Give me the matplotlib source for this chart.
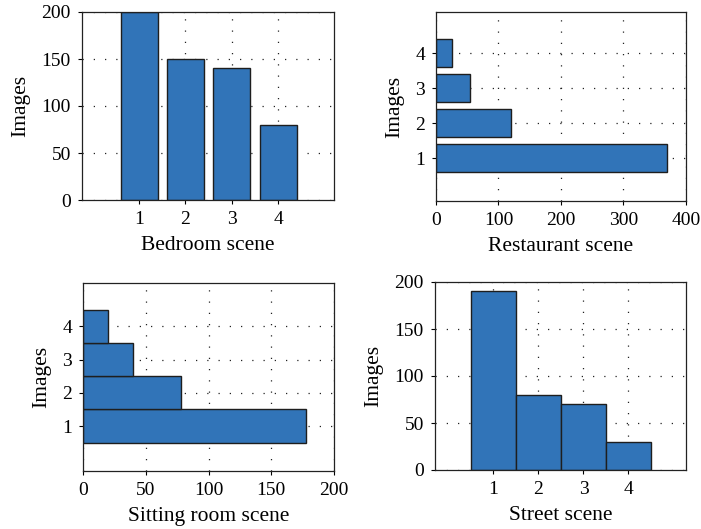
import matplotlib
matplotlib.use("Agg")
import matplotlib.pyplot as plt

plt.rcParams['font.family'] = ['Liberation Serif', 'DejaVu Serif']
plt.rcParams['font.size'] = 14

categories = [1, 2, 3, 4]
bedroom = [200, 150, 140, 80]
restaurant = [370, 120, 55, 25]
sitting = [178, 78, 40, 20]
street = [190, 80, 70, 30]

bar_color = '#3174b8'
edge_color = '#1e1e1e'

fig = plt.figure(figsize=(7.01, 5.29), dpi=100)
W, H = 701, 529

def add_ax(l, t, r, b):
    return fig.add_axes([l / W, 1 - b / H, (r - l) / W, (b - t) / H])

LBL = 15.5

def style(ax, xlabel):
    ax.set_axisbelow(True)
    ax.grid(True, linestyle=(0, (1, 8)), color='#222222', linewidth=0.9)
    ax.tick_params(direction='out', length=3, width=0.8, pad=5, labelsize=14)
    for s in ax.spines.values():
        s.set_linewidth(0.9)
        s.set_color('#222222')
    ax.set_xlabel(xlabel, fontsize=LBL, labelpad=6)
    ax.set_ylabel('Images', fontsize=LBL, labelpad=8)

# Bedroom
ax1 = add_ax(82, 12, 334, 200)
ax1.bar(categories, bedroom, width=0.8, color=bar_color, edgecolor=edge_color, linewidth=1)
ax1.set_xlim(-0.23, 5.2)
ax1.set_ylim(0, 200)
ax1.set_xticks(categories)
ax1.set_yticks([0, 50, 100, 150, 200])
style(ax1, 'Bedroom scene')

# Restaurant
ax2 = add_ax(436, 12, 686, 201)
ax2.barh(categories, restaurant, height=0.8, color=bar_color, edgecolor=edge_color, linewidth=1)
ax2.set_ylim(-0.22, 5.17)
ax2.set_xlim(0, 400)
ax2.set_yticks(categories)
ax2.set_xticks([0, 100, 200, 300, 400])
style(ax2, 'Restaurant scene')

# Sitting room
ax3 = add_ax(83, 283, 334, 471)
ax3.barh(categories, sitting, height=1.0, color=bar_color, edgecolor=edge_color, linewidth=1)
ax3.set_ylim(-0.35, 5.3)
ax3.set_xlim(0, 200)
ax3.set_yticks(categories)
ax3.set_xticks([0, 50, 100, 150, 200])
style(ax3, 'Sitting room scene')

# Street
ax4 = add_ax(435, 282, 686, 470)
ax4.bar(categories, street, width=1.0, color=bar_color, edgecolor=edge_color, linewidth=1)
ax4.set_xlim(-0.3, 5.28)
ax4.set_ylim(0, 200)
ax4.set_xticks(categories)
ax4.set_yticks([0, 50, 100, 150, 200])
style(ax4, 'Street scene')

fig.savefig('out.png', dpi=100)
